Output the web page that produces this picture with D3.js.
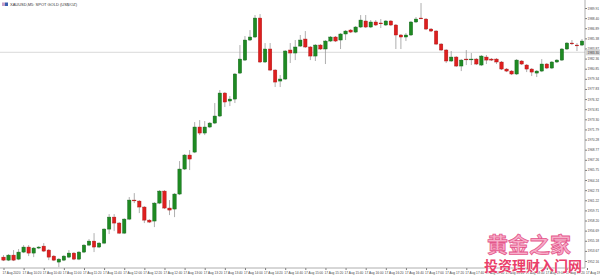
<!DOCTYPE html>
<html>
<head>
<meta charset="utf-8">
<script src="https://cdn.jsdelivr.net/npm/d3@7"></script>
<style>
body{margin:0;background:#fff}
svg{display:block;font-family:"Liberation Sans",Arial,sans-serif}
</style>
</head>
<body>
<svg id="chart"></svg>
<script>
// XAUUSD M5 candles
var opens=[1952.74,1952.29,1953.04,1952.44,1953.49,1954.24,1953.34,1954.09,1954.38,1953.79,
1952.89,1952.00,1952.29,1952.74,1953.34,1952.44,1953.49,1954.53,1955.13,1954.24,
1954.83,1956.92,1958.71,1957.82,1956.32,1958.41,1961.25,1961.10,1960.21,1958.26,
1958.12,1960.80,1962.59,1960.06,1959.91,1962.15,1965.88,1967.97,1968.41,1972.15,
1971.25,1972.15,1972.74,1973.79,1977.22,1976.03,1976.32,1980.20,1982.14,1985.13,
1985.58,1988.41,1981.85,1983.79,1980.65,1979.01,1979.31,1983.64,1983.19,1984.23,
1985.28,1984.09,1982.74,1984.38,1983.79,1984.98,1985.58,1985.13,1986.03,1986.62,
1986.32,1987.07,1987.97,1987.07,1987.82,1987.67,1987.37,1987.97,1987.37,1985.88,
1985.58,1985.88,1987.82,1988.41,1988.26,1986.77,1986.47,1984.53,1983.64,1982.00,
1982.59,1981.25,1982.29,1982.22,1982.29,1981.40,1982.59,1982.29,1982.29,1981.85,
1980.80,1980.50,1980.06,1982.00,1981.40,1980.80,1980.20,1980.50,1981.55,1980.95,
1981.85,1982.14,1983.79,1984.68,1984.38,1984.38];
var highs=[1953.04,1953.19,1953.79,1953.94,1954.53,1954.53,1954.24,1954.38,1954.83,1953.94,
1953.04,1952.59,1953.04,1953.79,1953.49,1953.64,1954.68,1955.43,1956.32,1954.98,
1957.07,1959.16,1959.16,1957.97,1958.56,1961.70,1962.29,1961.25,1960.35,1958.41,
1960.95,1962.74,1962.74,1961.25,1962.29,1967.07,1968.12,1968.71,1972.89,1973.19,
1973.04,1972.89,1975.73,1977.67,1977.37,1976.77,1980.20,1984.38,1985.73,1986.62,
1988.86,1989.01,1984.68,1984.68,1980.80,1979.91,1983.64,1984.68,1985.13,1985.88,
1986.47,1984.23,1984.53,1984.53,1985.13,1985.73,1985.73,1986.17,1986.62,1986.77,
1987.22,1988.86,1988.86,1988.11,1988.11,1988.26,1988.11,1988.11,1987.52,1986.03,
1986.17,1987.97,1988.56,1990.65,1988.41,1986.92,1986.62,1984.68,1983.79,1983.49,
1982.74,1982.29,1983.64,1983.19,1982.44,1982.89,1982.89,1982.44,1982.44,1982.00,
1980.95,1980.65,1982.29,1982.14,1981.55,1980.95,1980.65,1982.29,1981.70,1982.00,
1982.29,1983.94,1984.83,1985.13,1984.68,1985.28];
var lows=[1952.15,1952.15,1952.15,1952.29,1953.34,1952.89,1952.74,1953.94,1953.49,1952.29,
1952.15,1951.25,1952.15,1952.59,1952.29,1952.29,1953.34,1954.38,1953.49,1954.09,
1954.68,1956.18,1956.62,1956.18,1956.18,1958.26,1960.80,1959.31,1957.82,1957.82,
1957.22,1960.65,1959.91,1959.01,1958.71,1962.00,1965.73,1965.73,1968.26,1970.95,
1970.95,1972.00,1972.59,1973.64,1975.13,1975.28,1975.73,1980.06,1982.00,1984.98,
1985.43,1981.70,1981.70,1980.50,1978.12,1978.12,1979.16,1981.70,1982.14,1984.09,
1983.94,1982.14,1982.00,1983.64,1981.55,1984.83,1984.83,1983.79,1985.13,1986.17,
1986.17,1986.92,1986.92,1986.92,1987.22,1986.92,1987.22,1987.22,1983.79,1983.79,
1984.98,1985.73,1987.67,1988.26,1986.62,1986.32,1984.38,1983.49,1981.70,1981.85,
1981.10,1980.50,1981.40,1981.40,1981.40,1981.25,1981.55,1982.00,1981.55,1980.65,
1980.35,1979.91,1979.91,1981.40,1980.35,1979.76,1979.61,1980.35,1980.80,1980.80,
1981.70,1982.00,1983.64,1984.38,1983.49,1984.23];
var closes=[1952.29,1953.04,1952.29,1953.49,1954.24,1953.34,1954.09,1954.24,1953.64,1952.74,
1952.29,1952.44,1952.89,1953.34,1952.44,1953.49,1954.53,1955.13,1954.24,1954.83,
1956.92,1958.71,1957.82,1956.32,1958.41,1961.25,1961.18,1960.21,1958.26,1957.97,
1960.80,1962.59,1960.06,1959.76,1962.15,1965.88,1967.97,1967.37,1972.15,1971.25,
1972.15,1972.74,1973.79,1977.22,1975.88,1976.32,1980.06,1982.29,1985.13,1985.58,
1988.41,1981.85,1983.79,1980.65,1978.86,1979.31,1983.49,1983.19,1984.09,1985.13,
1984.09,1982.74,1984.38,1983.79,1984.98,1985.58,1984.98,1986.03,1986.47,1986.32,
1987.07,1988.11,1987.07,1987.82,1987.37,1987.59,1987.97,1987.37,1985.88,1985.58,
1985.88,1987.82,1988.26,1988.34,1986.77,1986.47,1984.53,1983.64,1982.00,1982.59,
1981.25,1982.14,1982.22,1982.29,1981.55,1982.74,1982.14,1982.14,1981.85,1980.80,
1980.50,1980.06,1982.14,1981.55,1980.80,1980.35,1980.50,1981.55,1980.95,1981.85,
1982.14,1983.79,1984.68,1984.61,1984.31,1984.98];

var yTicks=[1952.16,1953.67,1955.18,1956.69,1958.20,1959.71,1961.22,1962.73,1964.24,1965.75,
1967.26,1968.77,1970.28,1971.79,1973.30,1974.81,1976.32,1977.83,1979.34,1980.85,
1982.36,1983.87,1985.38,1986.89,1988.40,1989.91];

var timeLabels=["17 Aug 2020","17 Aug 10:20","17 Aug 10:40","17 Aug 11:00","17 Aug 11:20","17 Aug 11:40",
"17 Aug 12:00","17 Aug 12:20","17 Aug 12:40","17 Aug 13:00","17 Aug 13:20","17 Aug 13:40",
"17 Aug 14:00","17 Aug 14:20","17 Aug 14:40","17 Aug 15:00","17 Aug 15:20","17 Aug 15:40",
"17 Aug 16:00","17 Aug 16:20","17 Aug 16:40","17 Aug 17:00","17 Aug 17:20","17 Aug 17:40",
"17 Aug 18:00","17 Aug 18:20","17 Aug 18:40","17 Aug 19:00","17 Aug 19:20","17 Aug 19:40"];

var bidPrice=1983.30;
var title="XAUUSD,M5: SPOT GOLD (US$/OZ)";
var mark1="黄金之家", mark2="投资理财入门网";

var screen={width:600,height:276};
var axisX=585, axisY=268;

var svg=d3.select("#chart")
    .attr("width",screen.width)
    .attr("height",screen.height);

var candles=opens.map(function(o,i){
    return {i:i,o:o,h:highs[i],l:lows[i],c:closes[i]};
});

var xScale=d3.scaleLinear()
    .domain([0,opens.length-1])
    .range([3.5,582]);
var yScale=d3.scaleLinear()
    .domain([1952.16,1989.91])
    .range([261,8]);

// bid line
svg.append("line")
    .attr("x1",0).attr("x2",axisX)
    .attr("y1",yScale(bidPrice)).attr("y2",yScale(bidPrice))
    .attr("stroke","#cfcfcf").attr("stroke-width",0.8);

var plot=svg.append("g").classed("candles",true);

plot.selectAll("line.wick")
    .data(candles)
    .enter()
    .append("line")
    .classed("wick",true)
    .attr("x1",function(d){return xScale(d.i)})
    .attr("x2",function(d){return xScale(d.i)})
    .attr("y1",function(d){return yScale(d.h)})
    .attr("y2",function(d){return yScale(d.l)})
    .attr("stroke","#9a9a9a")
    .attr("stroke-width",0.8);

var bw=3.4;
plot.selectAll("rect.body")
    .data(candles)
    .enter()
    .append("rect")
    .classed("body",true)
    .attr("x",function(d){return xScale(d.i)-bw/2})
    .attr("width",bw)
    .attr("y",function(d){return yScale(Math.max(d.o,d.c))})
    .attr("height",function(d){return Math.max(0.8,Math.abs(yScale(d.o)-yScale(d.c)))})
    .attr("fill",function(d){return d.c>=d.o?"#1e8a22":"#de1f1f"})
    .attr("stroke",function(d){return d.c>=d.o?"#11611a":"#a81414"})
    .attr("stroke-width",0.4);

// price axis
var yAxis=d3.axisRight(yScale)
    .tickValues(yTicks)
    .tickSize(2)
    .tickFormat(d3.format(".2f"));
var ya=svg.append("g")
    .attr("transform","translate("+axisX+",0)")
    .call(yAxis);
ya.select(".domain").remove();
ya.selectAll("line").attr("stroke","#777");
ya.selectAll("text")
    .attr("x",2.5).attr("font-size","3.2px").attr("fill","#444")
    .attr("font-family","'Liberation Sans',sans-serif");
svg.append("line")
    .attr("x1",axisX).attr("x2",axisX).attr("y1",0).attr("y2",axisY)
    .attr("stroke","#999").attr("stroke-width",0.8);

// time axis
var labelIdx=timeLabels.map(function(t,k){return k*4});
var xAxis=d3.axisBottom(xScale)
    .tickValues(labelIdx)
    .tickSize(2)
    .tickFormat(function(d,k){return timeLabels[k]});
var xa=svg.append("g")
    .attr("transform","translate(0,"+axisY+")")
    .call(xAxis);
xa.select(".domain").remove();
xa.selectAll("line").attr("stroke","#777");
xa.selectAll("text")
    .attr("text-anchor","start")
    .attr("x",-1.5).attr("y",3.5)
    .attr("font-size","3.2px").attr("fill","#444")
    .attr("font-family","'Liberation Sans',sans-serif");
svg.append("line")
    .attr("x1",0).attr("x2",axisX).attr("y1",axisY).attr("y2",axisY)
    .attr("stroke","#999").attr("stroke-width",0.8);

// bid label
var by=yScale(bidPrice);
svg.append("rect")
    .attr("x",axisX+1).attr("y",by-3)
    .attr("width",14).attr("height",6)
    .attr("fill","#d6d6d6");
svg.append("text")
    .attr("x",axisX+2.5).attr("y",by+1.2)
    .attr("font-size","3.2px").attr("fill","#333")
    .text(d3.format(".2f")(bidPrice));

// title
svg.append("rect").attr("x",2).attr("y",2.5).attr("width",3).attr("height",3.5).attr("fill","#c8a0c8");
svg.append("rect").attr("x",5).attr("y",2.5).attr("width",3).attr("height",3.5).attr("fill","#3a5fb0");
svg.append("text")
    .attr("x",10).attr("y",6)
    .attr("font-size","4px").attr("fill","#333")
    .text(title);

// watermark
svg.append("text")
    .attr("x",487).attr("y",252)
    .attr("font-family","'Noto Sans CJK SC'")
    .attr("font-size","21px").attr("font-weight","bold")
    .attr("fill","#f7a6c4").attr("stroke","#e2457f").attr("stroke-width",0.8)
    .attr("opacity",0.9)
    .text(mark1);
svg.append("text")
    .attr("x",484).attr("y",271)
    .attr("font-family","'Noto Sans CJK SC'")
    .attr("font-size","14px").attr("font-weight","bold")
    .attr("fill","#ea3f6a").attr("stroke","#fff").attr("stroke-width",0.6)
    .attr("paint-order","stroke")
    .text(mark2);
</script>
</body>
</html>
